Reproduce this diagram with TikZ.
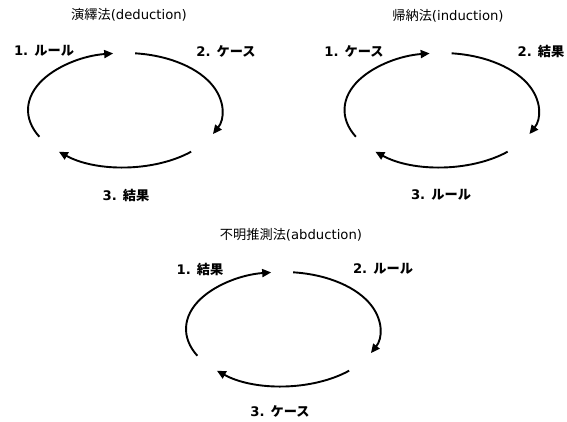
\documentclass[tikz,border=0pt]{standalone}
\usepackage{fontspec}
\setmainfont{DejaVu Sans}
\newfontfamily\jp{Noto Sans CJK JP}
\usetikzlibrary{arrows.meta}
\tikzset{
  cyc/.style={line width=1.9pt, -{Triangle[length=9pt,width=8pt]}},
  ttl/.style={font=\fontsize{13.2}{16}\selectfont, inner sep=0pt},
  lbl/.style={font=\fontsize{13.2}{16}\selectfont\bfseries, inner sep=0pt}
}
\begin{document}
\begin{tikzpicture}[x=1pt,y=-1pt]
\useasboundingbox (0,0) rectangle (567,422);
% ---- deduction ----
\node[ttl] (t1) at (129,15) {{\jp 演繹法}(deduction)};
\node[lbl] (d1) at (44,51) {1. {\jp ルール}};
\node[lbl] (d2) at (226,51) {2. {\jp ケース}};
\node[lbl] (d3) at (126,195) {3. {\jp 結果}};
\begin{scope}[shift={(125,110)}]
\coordinate (dA) at ({97*cos(84)},{-57*sin(84)});
\coordinate (dB) at ({97*cos(208)},{-57*sin(208)});
\coordinate (dC) at ({97*cos(-47)},{-57*sin(-47)});
\draw[cyc] (dA) arc[start angle=-84,end angle=25,x radius=97,y radius=57];
\draw[cyc] (dB) arc[start angle=-208,end angle=-97,x radius=97,y radius=57];
\draw[cyc] (dC) arc[start angle=47,end angle=133,x radius=97,y radius=57];
\end{scope}
% ---- induction ----
\node[ttl] (t2) at (448,16) {{\jp 帰納法}(induction)};
\node[lbl] (i1) at (354,51) {1. {\jp ケース}};
\node[lbl] (i2) at (541,51) {2. {\jp 結果}};
\node[lbl] (i3) at (441,195) {3. {\jp ルール}};
\begin{scope}[shift={(441.5,110)}]
\coordinate (iA) at ({97*cos(84)},{-57*sin(84)});
\coordinate (iB) at ({97*cos(208)},{-57*sin(208)});
\coordinate (iC) at ({97*cos(-47)},{-57*sin(-47)});
\draw[cyc] (iA) arc[start angle=-84,end angle=25,x radius=97,y radius=57];
\draw[cyc] (iB) arc[start angle=-208,end angle=-97,x radius=97,y radius=57];
\draw[cyc] (iC) arc[start angle=47,end angle=133,x radius=97,y radius=57];
\end{scope}
% ---- abduction ----
\node[ttl] (t3) at (291,235) {{\jp 不明推測法}(abduction)};
\node[lbl] (a1) at (200,269) {1. {\jp 結果}};
\node[lbl] (a2) at (383,269) {2. {\jp ルール}};
\node[lbl] (a3) at (280,411) {3. {\jp ケース}};
\begin{scope}[shift={(283,329)}]
\coordinate (aA) at ({97*cos(84)},{-57*sin(84)});
\coordinate (aB) at ({97*cos(208)},{-57*sin(208)});
\coordinate (aC) at ({97*cos(-47)},{-57*sin(-47)});
\draw[cyc] (aA) arc[start angle=-84,end angle=25,x radius=97,y radius=57];
\draw[cyc] (aB) arc[start angle=-208,end angle=-97,x radius=97,y radius=57];
\draw[cyc] (aC) arc[start angle=47,end angle=133,x radius=97,y radius=57];
\end{scope}
\end{tikzpicture}
\end{document}
